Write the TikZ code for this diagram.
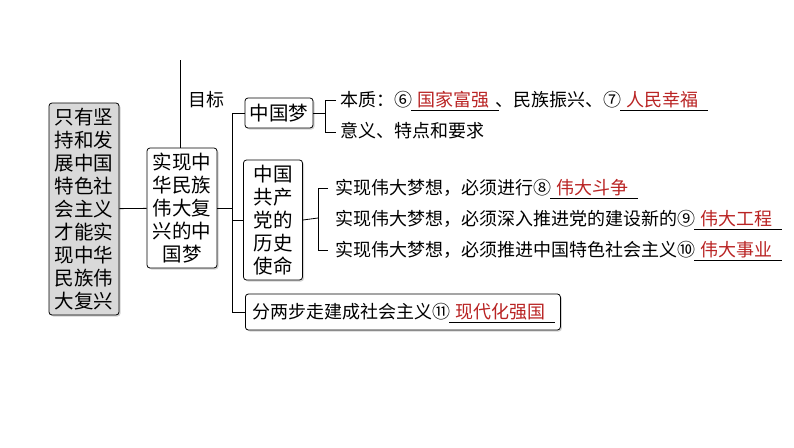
\documentclass[tikz,border=0pt]{standalone}
\usepackage{fontspec}
\setmainfont{Noto Sans CJK SC}
\usetikzlibrary{positioning,shadows}
\definecolor{ansred}{RGB}{185,35,35}
\tikzset{box/.style={draw,rounded corners=3pt,line width=0.8pt,inner sep=3pt,align=center,
      drop shadow={shadow xshift=1.5pt,shadow yshift=-1.5pt,opacity=0.35},fill=white},
    txt/.style={anchor=west,inner sep=0pt,font=\fontsize{18}{22}\selectfont},
    ans/.style={txt,text=ansred,inner xsep=3pt,inner ysep=2pt},
    link/.style={line width=0.8pt}}
\begin{document}
\begin{tikzpicture}[x=1pt,y=-1pt,font=\fontsize{19.5}{23}\selectfont]
\useasboundingbox (0,0) rectangle (794,447);

\node (whole) [box,fill=black!15,minimum width=70pt,minimum height=212pt] at (84,209)
    {只有坚\\持和发\\展中国\\特色社\\会主义\\才能实\\现中华\\民族伟\\大复兴};
\node (dream) [box,minimum width=70pt,minimum height=120pt] at (182,208)
    {实现中\\华民族\\伟大复\\兴的中\\国梦};
\draw [link] (whole) -- (dream);

\coordinate (top) at (180,60);
\draw [link] (top) -- (dream.north -| top);
\node (goal) [txt] at (188,100) {目标};

% branches
\coordinate (fork) at (232,208);
\node (cdream) [box,minimum width=68pt,minimum height=30pt] at (279,113) {中国梦};
\node (party) [box,minimum width=59pt,minimum height=120pt] at (273,220)
    {中国\\共产\\党的\\历史\\使命};
\node (steps) [box,minimum width=315pt,minimum height=36pt,anchor=west] at (245,312) {};
\node (stept) [txt] at (252,312) {分两步走建成社会主义⑪};
\draw [link] (dream.east) -- (fork);
\draw [link] (cdream.west -| fork) -- (steps.west -| fork);
\foreach \b in {cdream,party,steps}
  \draw [link] (\b.west -| fork) -- (\b.west);

% 中国梦
\draw [link] (cdream.east) -- (325,113);
\draw [link] (336,100) -- (325,100) -- (325,132) -- (336,132);
\node (ess) [txt] at (340,100) {本质：⑥};
\node (a6) [ans,right=2pt of ess] {国家富强};
\node (mid) [txt,right=2pt of a6] {、民族振兴、⑦};
\node (a7) [ans,right=2pt of mid] {人民幸福};
\node (mean) [txt] at (340,131) {意义、特点和要求};

% 使命
\draw [link] (party.east) -- (318,218);
\draw [link] (328,188) -- (318,188) -- (318,250) -- (328,250);
\node (m1) [txt] at (335,188) {实现伟大梦想，必须进行⑧};
\node (a8) [ans,right=2pt of m1] {伟大斗争};
\node (m2) [txt] at (335,219) {实现伟大梦想，必须深入推进党的建设新的⑨};
\node (a9) [ans,right=2pt of m2] {伟大工程};
\node (m3) [txt] at (335,250) {实现伟大梦想，必须推进中国特色社会主义⑩};
\node (a10) [ans,right=2pt of m3] {伟大事业};
\node (a11) [ans,right=2pt of stept] {现代化强国};

\foreach \a in {a6,a7,a8,a9,a10,a11}
  \draw [line width=0.6pt] ([xshift=-3pt]\a.south west) -- ([xshift=6pt]\a.south east);
\end{tikzpicture}
\end{document}
